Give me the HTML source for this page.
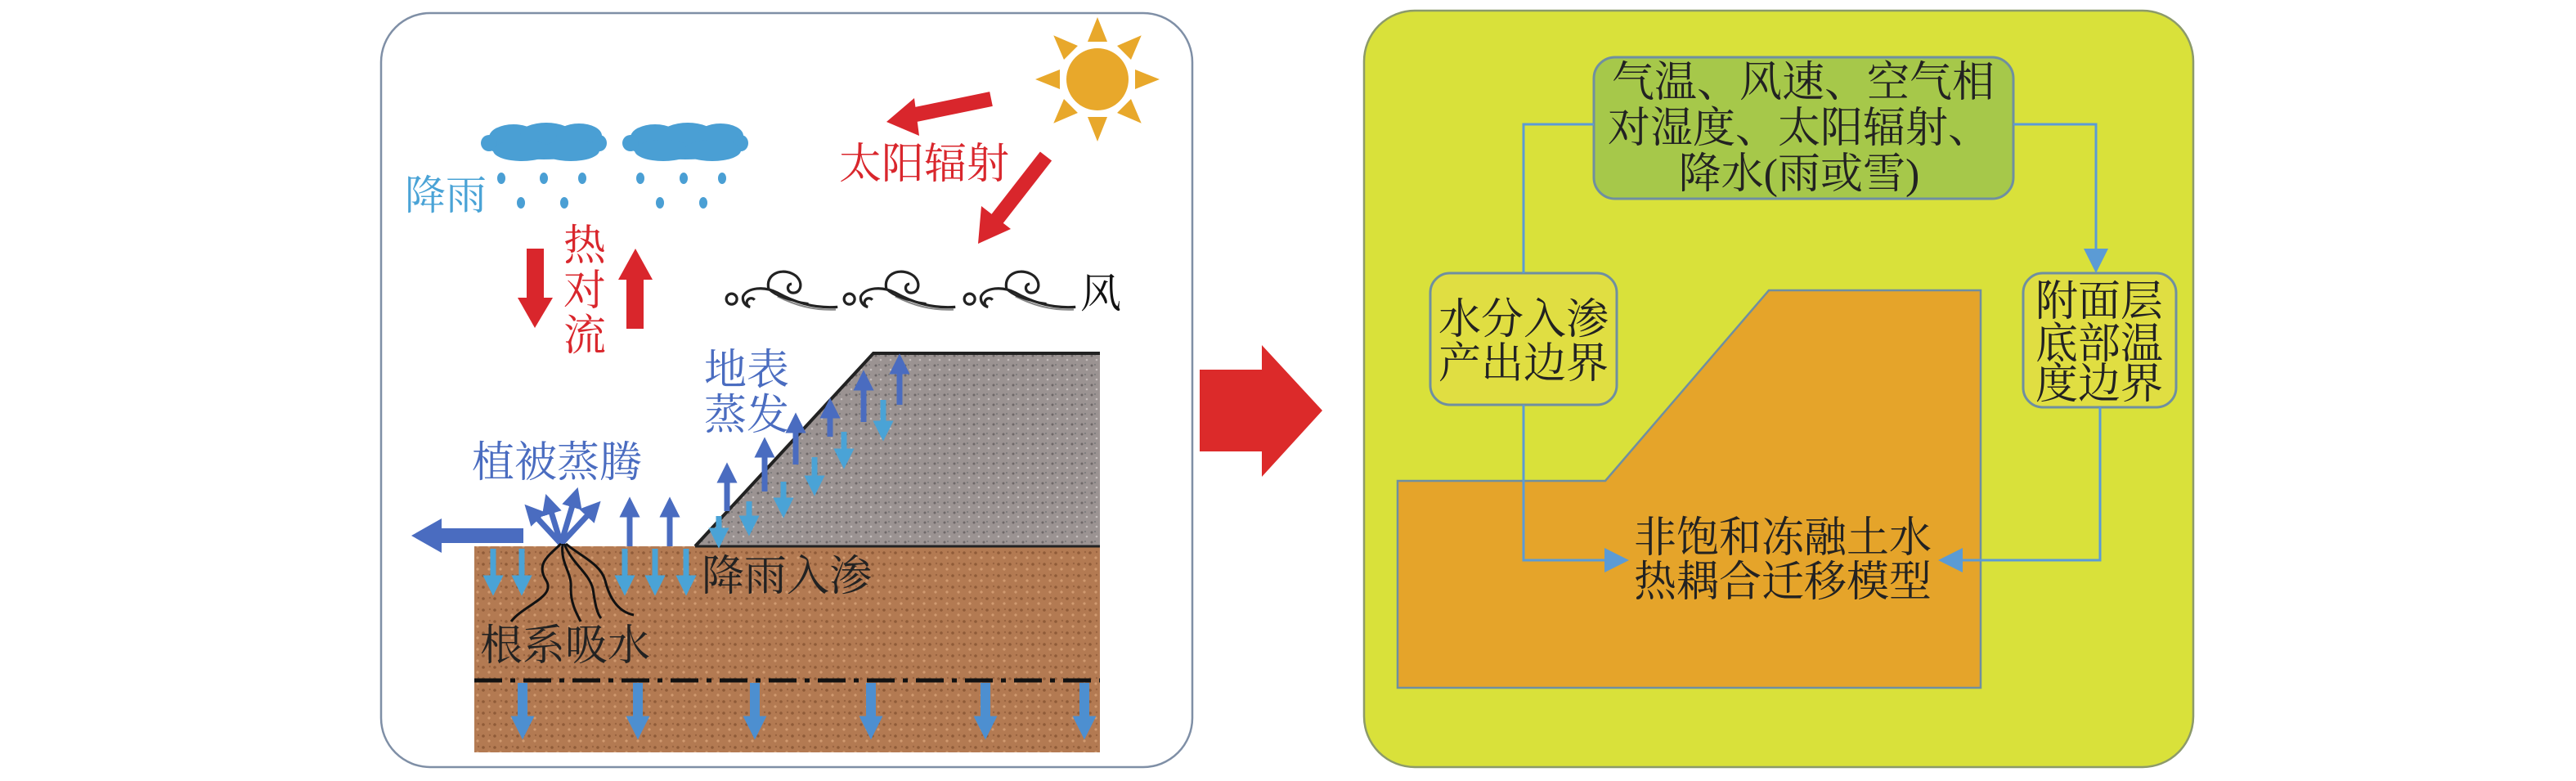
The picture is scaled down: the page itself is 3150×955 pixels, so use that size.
<!DOCTYPE html>
<html><head><meta charset="utf-8">
<style>html,body{margin:0;padding:0;background:#fff}svg{display:block}
text{font-family:"Liberation Serif","Noto Serif CJK SC",serif}</style></head>
<body>
<svg width="3150" height="955" viewBox="0 0 3150 955" xmlns="http://www.w3.org/2000/svg">
<defs>
<marker id="ad" viewBox="0 0 10 10" refX="5" refY="5" markerWidth="3.6" markerHeight="3.6" orient="auto"><path d="M0,0L10,5L0,10z" fill="#4a6cc0"/></marker>
<marker id="al" viewBox="0 0 10 10" refX="5" refY="5" markerWidth="3.6" markerHeight="3.6" orient="auto"><path d="M0,0L10,5L0,10z" fill="#4aa3d6"/></marker>
<marker id="am" viewBox="0 0 10 10" refX="5" refY="5" markerWidth="2.4" markerHeight="2.4" orient="auto"><path d="M0,0L10,5L0,10z" fill="#4d8fd0"/></marker>
<marker id="ab" viewBox="0 0 10 10" refX="6" refY="5" markerWidth="10" markerHeight="10" orient="auto"><path d="M0,0L10,5L0,10z" fill="#5b9bd5"/></marker>
<pattern id="gn" width="12" height="12" patternUnits="userSpaceOnUse"><rect width="12" height="12" fill="#9b9392"/><circle cx="3" cy="3" r="1.5" fill="#6e6868"/><circle cx="9" cy="8" r="1.3" fill="#c4bdbc"/><circle cx="7" cy="2" r="1" fill="#777"/></pattern>
<pattern id="bn" width="14" height="14" patternUnits="userSpaceOnUse"><rect width="14" height="14" fill="#b37a52"/><circle cx="3" cy="4" r="1.8" fill="#8f5b38"/><circle cx="10" cy="10" r="1.6" fill="#d19a70"/><circle cx="11" cy="3" r="1.2" fill="#9a6440"/></pattern>
<g id="sw" fill="none" stroke="#222" stroke-width="3">
<circle cx="8" cy="33" r="6"/>
<path d="M34,34a5,5 0 1 0 -5,8 a10,10 0 0 1 -8,-12 C26,20 45,18 60,26 C78,36 100,44 128,42"/>
<path d="M60,30 C80,40 100,46 126,45" stroke="#888" stroke-width="2"/>
<path d="M50,22 C46,6 62,-2 76,4 C90,10 88,26 78,26 C70,26 70,16 76,16" />
<path d="M50,22 C60,32 80,36 95,38" stroke-width="2"/>
</g>
<g id="cl" fill="#4a9fd4">
<ellipse cx="77" cy="27" rx="72" ry="20"/>
<ellipse cx="40" cy="20" rx="30" ry="16"/><ellipse cx="80" cy="16" rx="32" ry="14"/><ellipse cx="120" cy="18" rx="28" ry="15"/>
<ellipse cx="10" cy="27" rx="10" ry="10"/><ellipse cx="145" cy="27" rx="9" ry="10"/>
<ellipse cx="50" cy="36" rx="35" ry="13"/><ellipse cx="110" cy="36" rx="35" ry="13"/>
</g>
</defs>

<!-- LEFT PANEL -->
<rect x="466" y="16" width="992" height="922" rx="60" fill="#fff" stroke="#7f8fa6" stroke-width="2.5"/>

<!-- sun -->
<g transform="translate(1342,97)" fill="#e8a82b">
<circle r="38"/>
<g id="ray"><path d="M-12,-46L0,-76L12,-46z"/></g>
<use href="#ray" transform="rotate(45)"/><use href="#ray" transform="rotate(90)"/><use href="#ray" transform="rotate(135)"/>
<use href="#ray" transform="rotate(180)"/><use href="#ray" transform="rotate(225)"/><use href="#ray" transform="rotate(270)"/><use href="#ray" transform="rotate(315)"/>
</g>
<!-- radiation arrows -->
<line x1="1212" y1="121" x2="1110" y2="142" stroke="#d9262c" stroke-width="18"/>
<path d="M1084,149L1118,120L1124,166z" fill="#d9262c"/>
<line x1="1279" y1="191" x2="1216" y2="272" stroke="#d9262c" stroke-width="18"/>
<path d="M1196,298L1200,252L1236,280z" fill="#d9262c"/>
<text x="1026" y="218" font-size="52" fill="#d9262c">太阳辐射</text>

<!-- clouds -->
<use href="#cl" x="588" y="148"/><use href="#cl" x="761" y="148"/>
<g fill="#4a9fd4">
<ellipse cx="613" cy="218" rx="5" ry="7"/><ellipse cx="665" cy="218" rx="5" ry="7"/><ellipse cx="712" cy="218" rx="5" ry="7"/>
<ellipse cx="637" cy="248" rx="5" ry="7"/><ellipse cx="690" cy="248" rx="5" ry="7"/>
<ellipse cx="783" cy="218" rx="5" ry="7"/><ellipse cx="836" cy="218" rx="5" ry="7"/><ellipse cx="883" cy="218" rx="5" ry="7"/>
<ellipse cx="807" cy="248" rx="5" ry="7"/><ellipse cx="860" cy="248" rx="5" ry="7"/>
</g>
<text x="495" y="256" font-size="50" fill="#4aa3d6">降雨</text>

<!-- heat convection -->
<rect x="644" y="304" width="21" height="62" fill="#d9262c"/><path d="M633,364L676,364L654,401z" fill="#d9262c"/>
<rect x="766" y="340" width="21" height="62" fill="#d9262c"/><path d="M756,342L798,342L777,304z" fill="#d9262c"/>
<text font-size="52" fill="#d9262c"><tspan x="689" y="318">热</tspan><tspan x="689" y="373">对</tspan><tspan x="689" y="428">流</tspan></text>

<!-- wind -->
<use href="#sw" transform="translate(886,330) scale(1.08)"/><use href="#sw" transform="translate(1030,330) scale(1.08)"/><use href="#sw" transform="translate(1177,330) scale(1.08)"/>
<text x="1321" y="376" font-size="50" fill="#111">风</text>

<!-- ground -->
<rect x="580" y="668" width="765" height="252" fill="url(#bn)"/>
<polygon points="850,668 1068,432 1345,432 1345,668" fill="url(#gn)"/>
<polyline points="850,668 1068,432 1345,432" fill="none" stroke="#222" stroke-width="4"/>
<line x1="850" y1="668" x2="1345" y2="668" stroke="#222" stroke-width="3"/>
<line x1="580" y1="832" x2="1345" y2="832" stroke="#111" stroke-width="5" stroke-dasharray="34,10,6,10"/>

<!-- slope arrows -->
<g stroke="#4a6cc0" stroke-width="7" marker-end="url(#ad)">
<line x1="889" y1="625" x2="889" y2="578"/><line x1="935" y1="601" x2="935" y2="547"/><line x1="973" y1="568" x2="973" y2="517"/>
<line x1="1015" y1="534" x2="1015" y2="499"/><line x1="1056" y1="516" x2="1056" y2="465"/><line x1="1100" y1="495" x2="1100" y2="445"/>
<line x1="770" y1="668" x2="770" y2="620"/><line x1="819" y1="668" x2="819" y2="620"/>
<line x1="686" y1="665" x2="650" y2="626"/><line x1="686" y1="665" x2="671" y2="616"/><line x1="686" y1="665" x2="703" y2="608"/><line x1="686" y1="665" x2="726" y2="622"/>
</g>
<g stroke="#4aa3d6" stroke-width="7" marker-end="url(#al)">
<line x1="879" y1="631" x2="879" y2="658"/><line x1="916" y1="613" x2="916" y2="643"/><line x1="958" y1="589" x2="958" y2="621"/>
<line x1="996" y1="559" x2="996" y2="594"/><line x1="1032" y1="528" x2="1032" y2="561"/><line x1="1080" y1="489" x2="1080" y2="527"/>
<line x1="603" y1="671" x2="603" y2="716"/><line x1="638" y1="671" x2="638" y2="716"/><line x1="764" y1="671" x2="764" y2="716"/><line x1="801" y1="671" x2="801" y2="716"/><line x1="839" y1="671" x2="839" y2="716"/>
</g>
<g stroke="#4d8fd0" stroke-width="12" marker-end="url(#am)">
<line x1="639" y1="835" x2="639" y2="890"/><line x1="780" y1="835" x2="780" y2="890"/><line x1="923" y1="835" x2="923" y2="890"/>
<line x1="1065" y1="835" x2="1065" y2="890"/><line x1="1205" y1="835" x2="1205" y2="890"/><line x1="1326" y1="835" x2="1326" y2="890"/>
</g>
<!-- big left arrow -->
<rect x="538" y="646" width="102" height="18" fill="#4a6cc0"/><path d="M503,655L540,634L540,676z" fill="#4a6cc0"/>
<!-- roots -->
<g fill="none" stroke="#111" stroke-width="3">
<path d="M686,665 C670,680 655,690 668,710 C680,730 640,740 625,760"/>
<path d="M688,665 C685,690 700,700 698,720 C698,738 705,750 710,760"/>
<path d="M690,665 C700,690 720,700 725,720 C728,740 730,750 735,756"/>
<path d="M692,665 C710,680 735,690 740,710 C745,730 755,748 775,752"/>
</g>

<text font-size="52" fill="#4a6cc0"><tspan x="861" y="470">地表</tspan><tspan x="861" y="525">蒸发</tspan></text>
<text x="577" y="583" font-size="52" fill="#4a6cc0">植被蒸腾</text>
<text x="858" y="722" font-size="52" fill="#222">降雨入渗</text>
<text x="587" y="807" font-size="52" fill="#222">根系吸水</text>

<!-- middle big arrow -->
<rect x="1467" y="452" width="78" height="100" fill="#dc2a2a"/>
<path d="M1543,422L1617,502L1543,583z" fill="#dc2a2a"/>

<!-- RIGHT PANEL -->
<rect x="1668" y="13" width="1014" height="925" rx="62" fill="#d9e13a" stroke="#8c9a6a" stroke-width="2.5"/>
<polygon points="1709,588 1963,588 2163,355 2422,355 2422,841 1709,841" fill="#e5a42a" stroke="#6f8fa0" stroke-width="2.5"/>
<rect x="1949" y="70" width="513" height="173" rx="26" fill="#a6c84a" stroke="#6f8fa0" stroke-width="3"/>
<rect x="1749" y="334" width="228" height="161" rx="24" fill="#e0de42" stroke="#6f8fa0" stroke-width="3"/>
<rect x="2474" y="334" width="187" height="164" rx="24" fill="#e0de42" stroke="#6f8fa0" stroke-width="3"/>

<g fill="none" stroke="#5b9bd5" stroke-width="3">
<polyline points="1949,152 1863,152 1863,334"/>
<polyline points="1863,495 1863,685 1980,685" marker-end="url(#ab)"/>
<polyline points="2462,152 2563,152 2563,322" marker-end="url(#ab)"/>
<polyline points="2568,498 2568,685 2382,685" marker-end="url(#ab)"/>
</g>

<g font-size="52" fill="#222" text-anchor="middle">
<text x="2205" y="118">气温、风速、空气相</text>
<text x="2200" y="174">对湿度、太阳辐射、</text>
<text x="2200" y="230">降水(雨或雪)</text>
<text x="1863" y="408">水分入渗</text>
<text x="1863" y="462">产出边界</text>
<text x="2567" y="386">附面层</text>
<text x="2567" y="438">底部温</text>
<text x="2567" y="487">度边界</text>
<text x="2180" y="675">非饱和冻融土水</text>
<text x="2180" y="729">热耦合迁移模型</text>
</g>
</svg>
</body></html>
